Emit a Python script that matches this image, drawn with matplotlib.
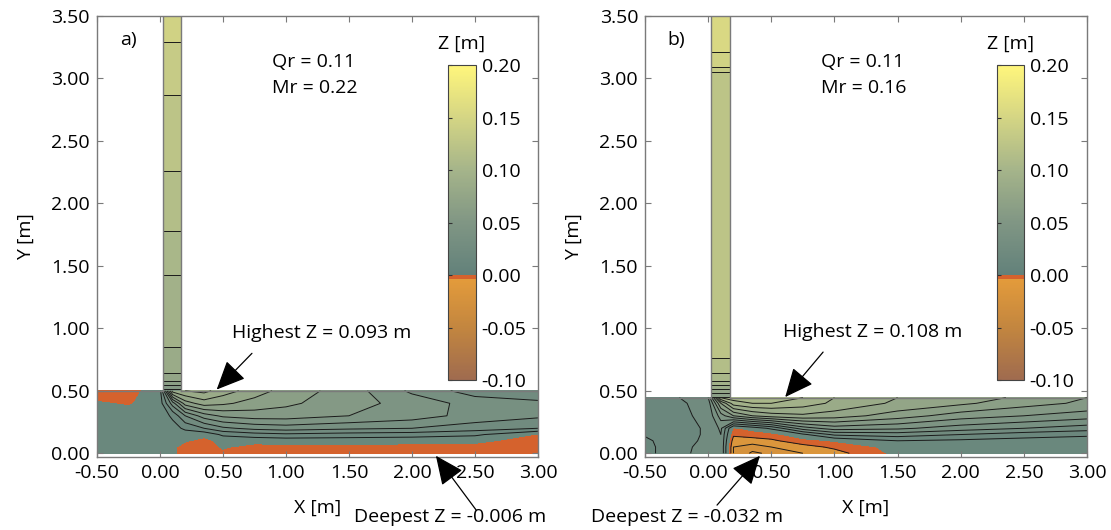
import numpy as np
import matplotlib
matplotlib.use("Agg")
import matplotlib.pyplot as plt
from matplotlib.colors import LinearSegmentedColormap, Normalize
from matplotlib.cm import ScalarMappable

plt.rcParams['font.family'] = ['Open Sans', 'DejaVu Sans']
plt.rcParams['axes.unicode_minus'] = False

# ---------------- data ----------------
grid_x = [-0.5, -0.25, 0.0, 0.1, 0.2, 0.35, 0.5, 0.75, 1.0, 1.5, 2.0, 2.5, 3.0]
grid_y_a = [0.0, 0.05, 0.1, 0.15, 0.2, 0.3, 0.4, 0.5]
grid_y_b = [0.0, 0.05, 0.1, 0.15, 0.2, 0.3, 0.4, 0.445]

# bed elevation Z [m], rows = grid_y (bottom -> top), cols = grid_x
z_a = [
    [0.004, 0.004, 0.003, 0.002, -0.004, -0.006, -0.002, -0.004, -0.004, -0.005, -0.006, -0.005, -0.006],
    [0.004, 0.004, 0.003, 0.002, -0.004, -0.005, 0.001, -0.003, -0.003, -0.003, -0.003, -0.003, -0.005],
    [0.004, 0.004, 0.003, 0.003, 0.001, -0.003, 0.003, 0.003, 0.004, 0.004, 0.003, 0.002, -0.004],
    [0.004, 0.004, 0.003, 0.004, 0.005, 0.003, 0.012, 0.016, 0.018, 0.016, 0.015, 0.012, -0.001],
    [0.004, 0.004, 0.004, 0.006, 0.012, 0.020, 0.028, 0.033, 0.035, 0.032, 0.030, 0.025, 0.020],
    [0.004, 0.004, 0.004, 0.012, 0.030, 0.045, 0.052, 0.055, 0.055, 0.050, 0.045, 0.036, 0.032],
    [0.001, -0.001, 0.005, 0.035, 0.065, 0.075, 0.072, 0.066, 0.062, 0.054, 0.046, 0.036, 0.033],
    [-0.006, -0.004, 0.006, 0.085, 0.090, 0.093, 0.085, 0.075, 0.066, 0.055, 0.038, 0.025, 0.020],
]
z_b = [
    [0.007, 0.016, 0.025, 0.030, -0.020, -0.032, -0.028, -0.020, -0.014, 0.003, 0.004, 0.004, 0.004],
    [0.007, 0.016, 0.024, 0.030, -0.020, -0.025, -0.020, -0.014, -0.008, 0.004, 0.004, 0.004, 0.004],
    [0.008, 0.016, 0.022, 0.030, -0.015, -0.014, -0.012, -0.004, 0.001, 0.010, 0.008, 0.006, 0.005],
    [0.011, 0.017, 0.021, 0.030, -0.008, -0.006, -0.004, 0.008, 0.022, 0.025, 0.020, 0.015, 0.012],
    [0.012, 0.017, 0.021, 0.032, -0.002, 0.004, 0.012, 0.035, 0.045, 0.042, 0.035, 0.030, 0.025],
    [0.012, 0.018, 0.022, 0.045, 0.060, 0.070, 0.075, 0.078, 0.075, 0.065, 0.055, 0.050, 0.045],
    [0.013, 0.018, 0.024, 0.070, 0.095, 0.100, 0.100, 0.095, 0.088, 0.078, 0.072, 0.064, 0.058],
    [0.013, 0.019, 0.030, 0.100, 0.105, 0.108, 0.107, 0.100, 0.090, 0.080, 0.075, 0.068, 0.060],
]

chan_x = [0.02, 0.17]
chan_y_a = [0.5, 0.54, 0.57, 0.62, 0.72, 1.36, 1.69, 2.13, 2.78, 3.22, 3.5]
chan_z_a = [0.045, 0.058, 0.068, 0.078, 0.088, 0.098, 0.108, 0.118, 0.128, 0.138, 0.146]
chan_y_b = [0.445, 0.48, 0.51, 0.54, 0.57, 0.61, 0.66, 0.72, 0.80, 1.5, 3.04, 3.08, 3.12, 3.5]
chan_z_b = [0.058, 0.068, 0.078, 0.088, 0.098, 0.106, 0.112, 0.118, 0.122, 0.124, 0.128, 0.138, 0.148, 0.156]

levels = [-0.04, -0.03, -0.02, -0.01, 0.0, 0.01, 0.02, 0.03, 0.04, 0.05, 0.06,
          0.07, 0.08, 0.09, 0.10, 0.11, 0.12, 0.13, 0.14, 0.15, 0.16]
cbar_ticks = [-0.10, -0.05, 0.00, 0.05, 0.10, 0.15, 0.20]
x_ticks = [-0.5, 0.0, 0.5, 1.0, 1.5, 2.0, 2.5, 3.0]
y_ticks = [0.0, 0.5, 1.0, 1.5, 2.0, 2.5, 3.0, 3.5]

panel_labels = ['a)', 'b)']
qr_values = [0.11, 0.11]
mr_values = [0.22, 0.16]
highest_z = [0.093, 0.108]
deepest_z = [-0.006, -0.032]

# ---------------- style ----------------
RED = '#d5622d'
cmap = LinearSegmentedColormap.from_list('zmap', [
    (0.0, '#9f6b4f'),
    (0.05 / 0.30, '#c3863f'),
    (0.0955 / 0.30, '#e39b3b'),
    (0.0960 / 0.30, RED),
    (0.0999 / 0.30, RED),
    (0.10 / 0.30, '#62817a'),
    (0.15 / 0.30, '#809684'),
    (0.20 / 0.30, '#a5b48a'),
    (0.25 / 0.30, '#d4d584'),
    (1.0, '#fff67c'),
])
norm = Normalize(vmin=-0.10, vmax=0.20)
band_colors = []
for lo, hi in zip(levels[:-1], levels[1:]):
    if hi <= 0 and lo >= -0.0101:
        band_colors.append(RED)
    elif lo >= 0 and hi <= 0.0101:
        band_colors.append('#6a887d')
    else:
        band_colors.append(cmap(norm(0.5 * (lo + hi))))

GRAY = '#7a7a7a'
FS = 14

fig = plt.figure(figsize=(11.11, 5.30), dpi=100)
ax_pos = [[0.0873, 0.1377, 0.3969, 0.8321], [0.5806, 0.1377, 0.3978, 0.8321]]
cb_pos = [[0.4032, 0.2830, 0.0252, 0.5943], [0.8974, 0.2830, 0.0243, 0.5943]]

panels = [
    dict(gy=grid_y_a, z=z_a, cy=chan_y_a, cz=chan_z_a, top=0.5,
         hi_tip=(0.45, 0.51), hi_tail=(0.73, 0.80), hi_txt=(1.28, 0.96),
         lo_tip=(2.19, -0.02), lo_tail=(2.51, -0.455), lo_txt=(1.54, -0.51)),
    dict(gy=grid_y_b, z=z_b, cy=chan_y_b, cz=chan_z_b, top=0.445,
         hi_tip=(0.61, 0.45), hi_tail=(0.91, 0.81), hi_txt=(1.30, 0.97),
         lo_tip=(0.41, -0.02), lo_tail=(0.07, -0.415), lo_txt=(-0.93, -0.51)),
]

line_levels = [l for l in levels if abs(l) > 1e-9]

for i, p in enumerate(panels):
    ax = fig.add_axes(ax_pos[i])
    X, Y = np.meshgrid(grid_x, p['gy'])
    Z = np.array(p['z'])
    ax.contourf(X, Y, Z, levels=levels, colors=band_colors)
    ax.contour(X, Y, Z, levels=line_levels, colors='#1a1a1a', linewidths=0.7,
               negative_linestyles='solid')

    CX, CY = np.meshgrid(chan_x, p['cy'])
    CZ = np.column_stack([p['cz'], p['cz']])
    ax.contourf(CX, CY, CZ, levels=levels, colors=band_colors)
    ax.contour(CX, CY, CZ, levels=line_levels, colors='#1a1a1a', linewidths=0.7,
               negative_linestyles='solid')

    top = p['top']
    ax.plot([-0.5, chan_x[0]], [top, top], color=GRAY, lw=1.0)
    ax.plot([chan_x[1], 3.0], [top, top], color=GRAY, lw=1.0)
    ax.plot([chan_x[0], chan_x[0]], [top, 3.5], color=GRAY, lw=1.0)
    ax.plot([chan_x[1], chan_x[1]], [top, 3.5], color=GRAY, lw=1.0)

    ax.set_xlim(-0.5, 3.0)
    ax.set_ylim(-0.03, 3.5)
    ax.set_xticks(x_ticks)
    ax.set_yticks(y_ticks)
    ax.set_xticklabels([f'{v:.2f}' for v in x_ticks])
    ax.set_yticklabels([f'{v:.2f}' for v in y_ticks])
    ax.tick_params(direction='in', length=4, width=0.8, color=GRAY,
                   top=True, right=True, labelsize=FS, pad=5)
    for s in ax.spines.values():
        s.set_color(GRAY)
        s.set_linewidth(1.0)
    ax.set_xlabel('X [m]', fontsize=FS, labelpad=12)
    ax.set_ylabel('Y [m]', fontsize=FS, labelpad=12)

    ax.text(-0.25, 3.31, panel_labels[i], fontsize=FS, ha='center', va='center')
    ax.text(0.89, 3.13, f'Qr = {qr_values[i]:.2f}', fontsize=FS, ha='left', va='center')
    ax.text(0.89, 2.92, f'Mr = {mr_values[i]:.2f}', fontsize=FS, ha='left', va='center')

    aprops = dict(arrowstyle='-|>,head_length=1.0,head_width=0.45', color='black',
                  lw=0.9, mutation_scale=18, shrinkA=0, shrinkB=0)
    ax.text(p['hi_txt'][0], p['hi_txt'][1], f'Highest Z = {highest_z[i]:.3f} m',
            fontsize=FS, ha='center', va='center')
    ax.annotate('', xy=p['hi_tip'], xytext=p['hi_tail'], arrowprops=aprops,
                annotation_clip=False)
    ax.text(p['lo_txt'][0], p['lo_txt'][1], f'Deepest Z = {deepest_z[i]:.3f} m',
            fontsize=FS, ha='left', va='center', clip_on=False)
    ax.annotate('', xy=p['lo_tip'], xytext=p['lo_tail'], arrowprops=aprops,
                annotation_clip=False)

    cax = fig.add_axes(cb_pos[i])
    cb = fig.colorbar(ScalarMappable(norm=norm, cmap=cmap), cax=cax, ticks=cbar_ticks)
    cb.outline.set_edgecolor('#444444')
    cb.outline.set_linewidth(0.8)
    cax.set_yticklabels([f'{v:.2f}' for v in cbar_ticks])
    cax.tick_params(left=True, right=False, labelleft=False, labelright=True,
                    direction='in', length=3, color='#333333', labelsize=FS, pad=4)
    cax.set_title('Z [m]', fontsize=FS, pad=12)

fig.savefig('out.png', dpi=100)
